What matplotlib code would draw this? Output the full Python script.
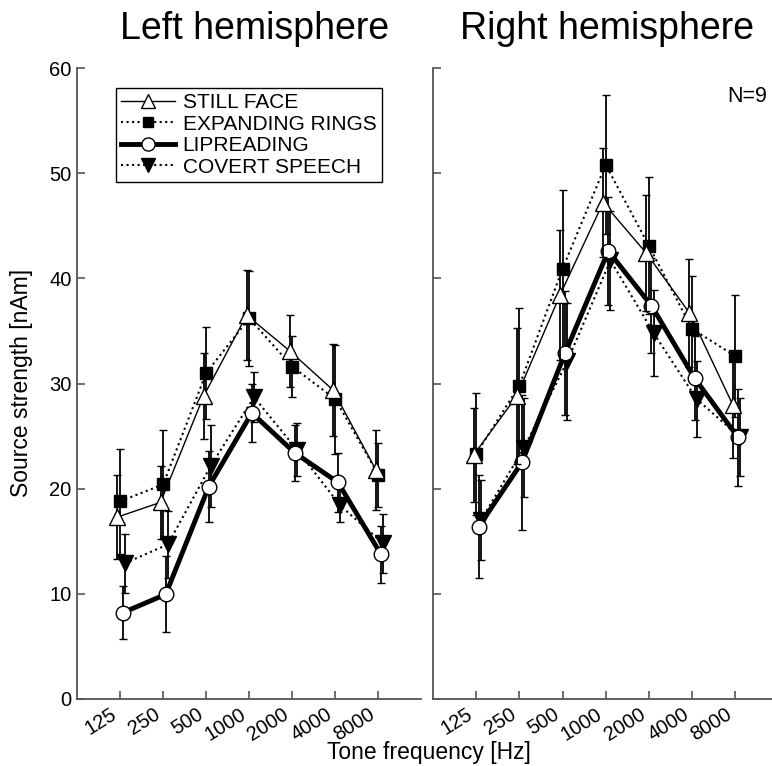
import matplotlib
matplotlib.use("Agg")
import matplotlib.pyplot as plt
from matplotlib.lines import Line2D
import numpy as np

plt.rcParams['font.family'] = ['Liberation Sans', 'DejaVu Sans']

freqs = ["125", "250", "500", "1000", "2000", "4000", "8000"]
conditions = ["STILL FACE", "EXPANDING RINGS", "LIPREADING", "COVERT SPEECH"]

# Left hemisphere (nAm)
left_still = [17.3, 18.7, 28.8, 36.5, 33.1, 29.4, 21.8]
left_still_err = [4.0, 3.5, 4.1, 4.3, 3.4, 4.4, 3.8]
left_rings = [18.8, 20.4, 31.0, 36.2, 31.6, 28.5, 21.3]
left_rings_err = [5.0, 5.2, 4.4, 4.5, 2.9, 5.2, 3.0]
left_lip = [8.2, 9.95, 20.2, 27.2, 23.4, 20.6, 13.75]
left_lip_err = [2.5, 3.6, 3.4, 2.8, 2.7, 2.8, 2.7]
left_covert = [12.9, 14.7, 22.2, 28.7, 23.7, 18.4, 14.8]
left_covert_err = [2.8, 3.2, 3.9, 2.4, 2.5, 1.55, 2.8]

# Right hemisphere (nAm)
right_still = [23.2, 28.8, 38.4, 47.2, 42.4, 36.7, 28.0]
right_still_err = [4.5, 6.5, 6.2, 5.2, 5.5, 5.1, 5.1]
right_rings = [23.3, 29.8, 40.9, 50.8, 43.1, 35.2, 32.6]
right_rings_err = [5.8, 7.4, 7.5, 6.6, 6.5, 5.0, 5.8]
right_lip = [16.4, 22.5, 32.9, 42.6, 37.4, 30.5, 24.9]
right_lip_err = [4.9, 6.4, 5.9, 5.1, 4.5, 4.0, 4.6]
right_covert = [17.0, 23.9, 32.1, 41.7, 34.8, 28.5, 24.9]
right_covert_err = [3.8, 4.7, 5.6, 4.7, 4.1, 3.6, 3.7]

styles = [
    dict(marker='^', ls='-', lw=1.0, mfc='white', ms=11, off=-0.06, z=6),
    dict(marker='s', ls=':', lw=1.5, mfc='black', ms=8, off=0.0, z=4),
    dict(marker='o', ls='-', lw=3.5, mfc='white', ms=10.5, off=0.06, z=5),
    dict(marker='v', ls=':', lw=1.5, mfc='black', ms=11, off=0.11, z=3),
]

W, H = 772, 766
fig = plt.figure(figsize=(W / 100, H / 100), dpi=100)
axL = fig.add_axes([77 / W, (H - 699) / H, (421.5 - 77) / W, (699 - 68) / H])
axR = fig.add_axes([433 / W, (H - 699) / H, (772 - 433) / W, (699 - 68) / H])

spine_col = '#555555'
x = np.arange(len(freqs))

def draw(ax, series, xmax):
    for (vals, errs), st in zip(series, styles):
        ax.errorbar(x + st['off'], vals, yerr=errs, color='black',
                    ls=st['ls'], lw=st['lw'], marker=st['marker'],
                    mfc=st['mfc'], mec='black', mew=1.0, ms=st['ms'],
                    elinewidth=1.3, capsize=3, capthick=1.3, zorder=st['z'])
    ax.set_xlim(-1, xmax)
    ax.set_ylim(0, 60)
    ax.set_xticks(x)
    ax.set_xticklabels(freqs, rotation=32, ha='right', va='top', fontsize=14.5)
    ax.set_yticks(np.arange(0, 61, 10))
    for s in ['top', 'right']:
        ax.spines[s].set_visible(False)
    for s in ['left', 'bottom']:
        ax.spines[s].set_color(spine_col)
        ax.spines[s].set_linewidth(1.3)
    ax.tick_params(direction='in', length=6, width=1.2, color=spine_col,
                   labelsize=14.5, pad=4)

draw(axL, [(left_still, left_still_err), (left_rings, left_rings_err),
           (left_lip, left_lip_err), (left_covert, left_covert_err)], 7.0)
draw(axR, [(right_still, right_still_err), (right_rings, right_rings_err),
           (right_lip, right_lip_err), (right_covert, right_covert_err)], (772 - 476) / 43.2)
axR.set_yticklabels([])

handles = [Line2D([], [], color='black', ls=st['ls'], lw=st['lw'], marker=st['marker'],
                  mfc=st['mfc'], mec='black', ms=st['ms'] * 0.9) for st in styles]
leg = axL.legend(handles, conditions, loc='upper left', bbox_to_anchor=(116 / W, 1 - 88 / H),
                 bbox_transform=fig.transFigure, fontsize=15, frameon=True, fancybox=False,
                 framealpha=1, edgecolor='black', handlelength=2.6, handletextpad=0.35,
                 labelspacing=0.12, borderpad=0.25, borderaxespad=0, numpoints=1)
leg.get_frame().set_linewidth(1.0)

axR.text(767 / W, 1 - 97 / H, "N=9", transform=fig.transFigure, ha='right', va='center',
         fontsize=15.5)

fig.text(255 / W, 1 - 39 / H, "Left hemisphere", ha='center', va='baseline', fontsize=27)
fig.text(607 / W, 1 - 39 / H, "Right hemisphere", ha='center', va='baseline', fontsize=27)
fig.text(22 / W, 1 - 383 / H, "Source strength [nAm]", rotation=90, ha='center', va='center',
         fontsize=16.5)
fig.text(429 / W, 1 - 759 / H, "Tone frequency [Hz]", ha='center', va='baseline', fontsize=16.5)

fig.savefig("out.png", dpi=100)
